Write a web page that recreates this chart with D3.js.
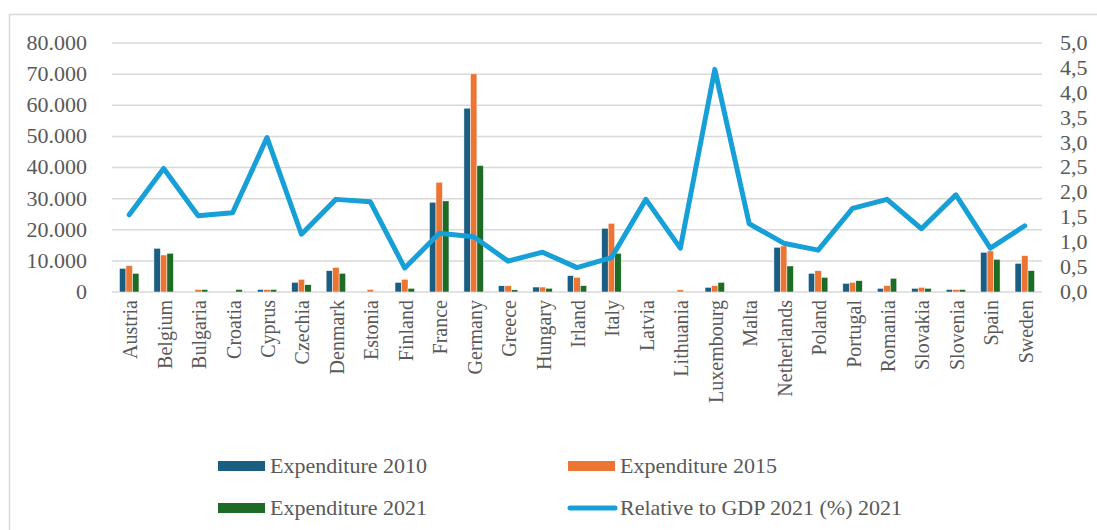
<!DOCTYPE html>
<html>
<head>
<meta charset="utf-8">
<script src="https://cdn.jsdelivr.net/npm/d3@7"></script>
<style>
  body { margin: 0; background: #fff; }
  text { font-family: "Liberation Serif", "Times New Roman", serif; fill: #595959; }
</style>
</head>
<body>
<div class="chart"></div>
<script>
// chart values
var categories = ['Austria', 'Belgium', 'Bulgaria', 'Croatia', 'Cyprus', 'Czechia', 'Denmark',
  'Estonia', 'Finland', 'France', 'Germany', 'Greece', 'Hungary', 'Irland', 'Italy', 'Latvia',
  'Lithuania', 'Luxembourg', 'Malta', 'Netherlands', 'Poland', 'Portugal', 'Romania',
  'Slovakia', 'Slovenia', 'Spain', 'Sweden'];

var exp2010 = [7600, 14050, 0, 0, 800, 3100, 6850, 0, 3100, 28840, 59060, 2000, 1600, 5250,
  20470, 0, 0, 1500, 0, 14370, 6000, 2790, 1180, 1180, 800, 12760, 9220];
var exp2015 = [8460, 11900, 800, 0, 800, 4080, 7930, 800, 4080, 35270, 70100, 2000, 1600, 4720,
  22080, 0, 700, 2000, 0, 14800, 6850, 3100, 2030, 1500, 800, 13200, 11680];
var exp2021 = [6000, 12440, 800, 800, 800, 2360, 6000, 0, 1180, 29260, 40610, 700, 1200, 2030,
  12440, 0, 0, 3100, 0, 8360, 4720, 3640, 4400, 1180, 800, 10510, 6860];
var gdp2021 = [1.55, 2.48, 1.53, 1.59, 3.10, 1.16, 1.86, 1.81, 0.48, 1.18, 1.11, 0.62, 0.80, 0.49,
  0.69, 1.86, 0.88, 4.47, 1.37, 0.98, 0.84, 1.68, 1.86, 1.27, 1.95, 0.88, 1.33];

var leftTicks = [0, 10000, 20000, 30000, 40000, 50000, 60000, 70000, 80000];
var rightTicks = [0, 0.5, 1, 1.5, 2, 2.5, 3, 3.5, 4, 4.5, 5];

var seriesNames = ['Expenditure 2010', 'Expenditure 2015', 'Expenditure 2021'];
var barColors = ['#1b5e83', '#ed7533', '#1d6b24'];
var lineColor = '#16a0d7';
var lineName = 'Relative to GDP 2021 (%) 2021';

var W = 1097, H = 530;
var plot = { left: 112, right: 1042, top: 43, bottom: 292 };
var stretch = 'scale(1.1,1)'; // the source picture is a bit wider than tall

var loc = d3.formatLocale({ decimal: ',', thousands: '.', grouping: [3], currency: ['', ''] });
var fmtLeft = loc.format(',');
var fmtRight = loc.format('.1f');

var svg = d3.select('.chart')
  .append('svg')
    .attr('width', W)
    .attr('height', H);

// outer chart frame (only left and top are inside the picture)
svg.append('path')
  .attr('d', 'M9.5,' + H + 'V14.5H' + W)
  .attr('fill', 'none')
  .attr('stroke', '#d9d9d9')
  .attr('stroke-width', 1.5);

var x = d3.scaleBand()
  .domain(categories)
  .range([plot.left, plot.right]);

var xInner = d3.scaleBand()
  .domain([0, 1, 2])
  .range([0, x.bandwidth()])
  .paddingOuter(1.15);

var yLeft = d3.scaleLinear()
  .domain([0, 80000])
  .range([plot.bottom, plot.top]);

var yRight = d3.scaleLinear()
  .domain([0, 5])
  .range([plot.bottom, plot.top]);

// gridlines
svg.append('g')
  .selectAll('line')
  .data(leftTicks)
  .join('line')
    .attr('x1', plot.left)
    .attr('x2', plot.right)
    .attr('y1', d => yLeft(d))
    .attr('y2', d => yLeft(d))
    .attr('stroke', '#d9d9d9')
    .attr('stroke-width', 1.5);

// left axis
var gLeft = svg.append('g')
  .attr('transform', 'translate(87,0)')
  .call(d3.axisLeft(yLeft).tickValues(leftTicks).tickFormat(fmtLeft).tickSize(0).tickPadding(0));
gLeft.select('.domain').remove();
gLeft.selectAll('text')
  .attr('x', 0)
  .attr('transform', stretch)
  .style('font-size', '20px')
  .style('font-family', '"Liberation Serif", serif')
  .attr('fill', '#595959');

// right axis
var gRight = svg.append('g')
  .attr('transform', 'translate(1060,0)')
  .call(d3.axisRight(yRight).tickValues(rightTicks).tickFormat(fmtRight).tickSize(0).tickPadding(0));
gRight.select('.domain').remove();
gRight.selectAll('text')
  .attr('x', 0)
  .attr('transform', stretch)
  .style('font-size', '20px')
  .style('font-family', '"Liberation Serif", serif')
  .attr('fill', '#595959');

// bars
var series = [exp2010, exp2015, exp2021];
series.forEach(function (vals, s) {
  svg.append('g')
    .selectAll('rect')
    .data(vals)
    .join('rect')
      .attr('x', (d, i) => x(categories[i]) + xInner(s))
      .attr('width', xInner.bandwidth())
      .attr('y', d => yLeft(d))
      .attr('height', d => plot.bottom - yLeft(d))
      .attr('fill', barColors[s])
      .attr('stroke', '#fff')
      .attr('stroke-width', 0.5);
});

// GDP line on the right scale
var line = d3.line()
  .x((d, i) => x(categories[i]) + x.bandwidth() / 2)
  .y(d => yRight(d));

svg.append('path')
  .datum(gdp2021)
  .attr('d', line)
  .attr('fill', 'none')
  .attr('stroke', lineColor)
  .attr('stroke-width', 5)
  .attr('stroke-linejoin', 'round')
  .attr('stroke-linecap', 'round');

// category labels, rotated
svg.append('g')
  .selectAll('text')
  .data(categories)
  .join('text')
    .attr('transform', d => 'translate(' + (x(d) + x.bandwidth() / 2 + 1) + ',300) rotate(-90)')
    .attr('dy', '0.35em')
    .attr('text-anchor', 'end')
    .style('font-size', '20px')
    .text(d => d);

// legend
var legendItems = [
  { name: seriesNames[0], color: barColors[0], type: 'bar', x: 218, y: 466 },
  { name: seriesNames[1], color: barColors[1], type: 'bar', x: 568, y: 466 },
  { name: seriesNames[2], color: barColors[2], type: 'bar', x: 218, y: 508 },
  { name: lineName, color: lineColor, type: 'line', x: 568, y: 508 }
];

var leg = svg.append('g')
  .selectAll('g')
  .data(legendItems)
  .join('g')
    .attr('transform', d => 'translate(' + d.x + ',' + d.y + ')');

leg.filter(d => d.type === 'bar')
  .append('rect')
    .attr('x', 0)
    .attr('y', -5)
    .attr('width', 47)
    .attr('height', 10)
    .attr('fill', d => d.color);

leg.filter(d => d.type === 'line')
  .append('line')
    .attr('x1', 2)
    .attr('x2', 47)
    .attr('stroke', d => d.color)
    .attr('stroke-width', 5)
    .attr('stroke-linecap', 'round');

leg.append('text')
  .attr('transform', 'translate(52,0) ' + stretch)
  .attr('dy', '0.35em')
  .style('font-size', '20px')
  .text(d => d.name);
</script>
</body>
</html>
